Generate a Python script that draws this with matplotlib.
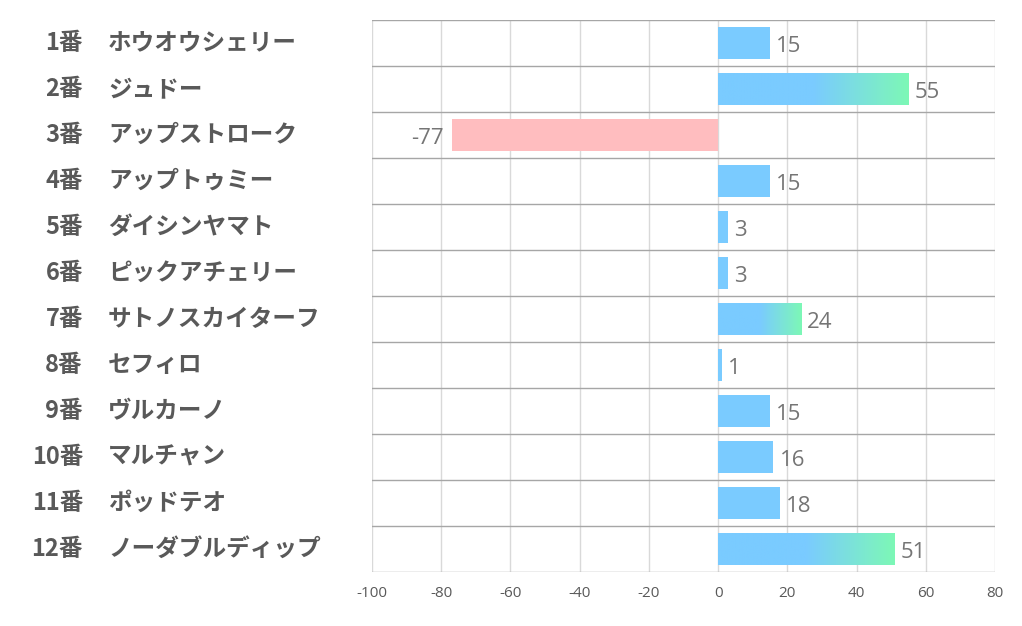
import numpy as np
import matplotlib.pyplot as plt
from matplotlib.colors import LinearSegmentedColormap
from matplotlib.transforms import blended_transform_factory, offset_copy

plt.rcParams['font.family'] = ['Noto Sans CJK JP', 'DejaVu Sans']
plt.rcParams['axes.unicode_minus'] = False

numbers = ['1番', '2番', '3番', '4番', '5番', '6番', '7番', '8番', '9番', '10番', '11番', '12番']
horses = ['ホウオウシェリー', 'ジュドー', 'アップストローク', 'アップトゥミー', 'ダイシンヤマト',
          'ピックアチェリー', 'サトノスカイターフ', 'セフィロ', 'ヴルカーノ', 'マルチャン',
          'ポッドテオ', 'ノーダブルディップ']
values = [15, 55, -77, 15, 3, 3, 24, 1, 15, 16, 18, 51]

blue = '#7ACBFF'
green = '#7DF8B6'
pink = '#FFBDBF'
grad = LinearSegmentedColormap.from_list('g', [(0, blue), (0.5, blue), (1, green)])

fig = plt.figure(figsize=(10.22, 6.26), dpi=100)
ax = fig.add_axes([372 / 1022, 1 - 572 / 626, 623 / 1022, 552 / 626])

n = len(values)
ypos = np.arange(n)
h = 0.68
for y, v in zip(ypos, values):
    if v < 0:
        ax.barh(y, v, height=h, color=pink, zorder=2)
    elif v >= 20:
        img = np.linspace(0, 1, 256).reshape(1, -1)
        ax.imshow(img, cmap=grad, aspect='auto', extent=[0, v, y + h / 2, y - h / 2],
                  zorder=2, interpolation='bilinear')
    else:
        ax.barh(y, v, height=h, color=blue, zorder=2)

    if v < 0:
        tr = offset_copy(ax.transData, fig=fig, x=-8, y=-3, units='dots')
        ax.text(v, y, str(v), transform=tr, ha='right', va='center', fontsize=16,
                color='#757575', family=['Open Sans', 'DejaVu Sans'])
    else:
        tr = offset_copy(ax.transData, fig=fig, x=6, y=-3, units='dots')
        ax.text(v, y, str(v), transform=tr, ha='left', va='center', fontsize=16,
                color='#757575', family=['Open Sans', 'DejaVu Sans'])

ax.set_xlim(-100, 80)
ax.set_ylim(n - 0.5, -0.5)
ax.set_xticks(np.arange(-100, 81, 20))
ax.set_yticks([])
ax.tick_params(axis='x', length=0, labelsize=11, labelcolor='#595959', pad=10)
for lbl in ax.get_xticklabels():
    lbl.set_family(['Open Sans', 'DejaVu Sans'])

for x in np.arange(-100, 81, 20):
    ax.axvline(x, color='#D9D9D9', linewidth=1, zorder=1)
for b in np.arange(-0.5, n, 1):
    ax.axhline(b, color='#A6A6A6', linewidth=1, zorder=3)
for s in ax.spines.values():
    s.set_visible(False)

trans = blended_transform_factory(fig.transFigure, ax.transData)
for y, num, name in zip(ypos, numbers, horses):
    ax.text(83 / 1022, y, num, transform=trans, ha='right', va='center', fontsize=17,
            fontweight='bold', color='#595959')
    ax.text(108 / 1022, y, name, transform=trans, ha='left', va='center', fontsize=17,
            fontweight='bold', color='#595959')

fig.savefig('out.png', dpi=100)
